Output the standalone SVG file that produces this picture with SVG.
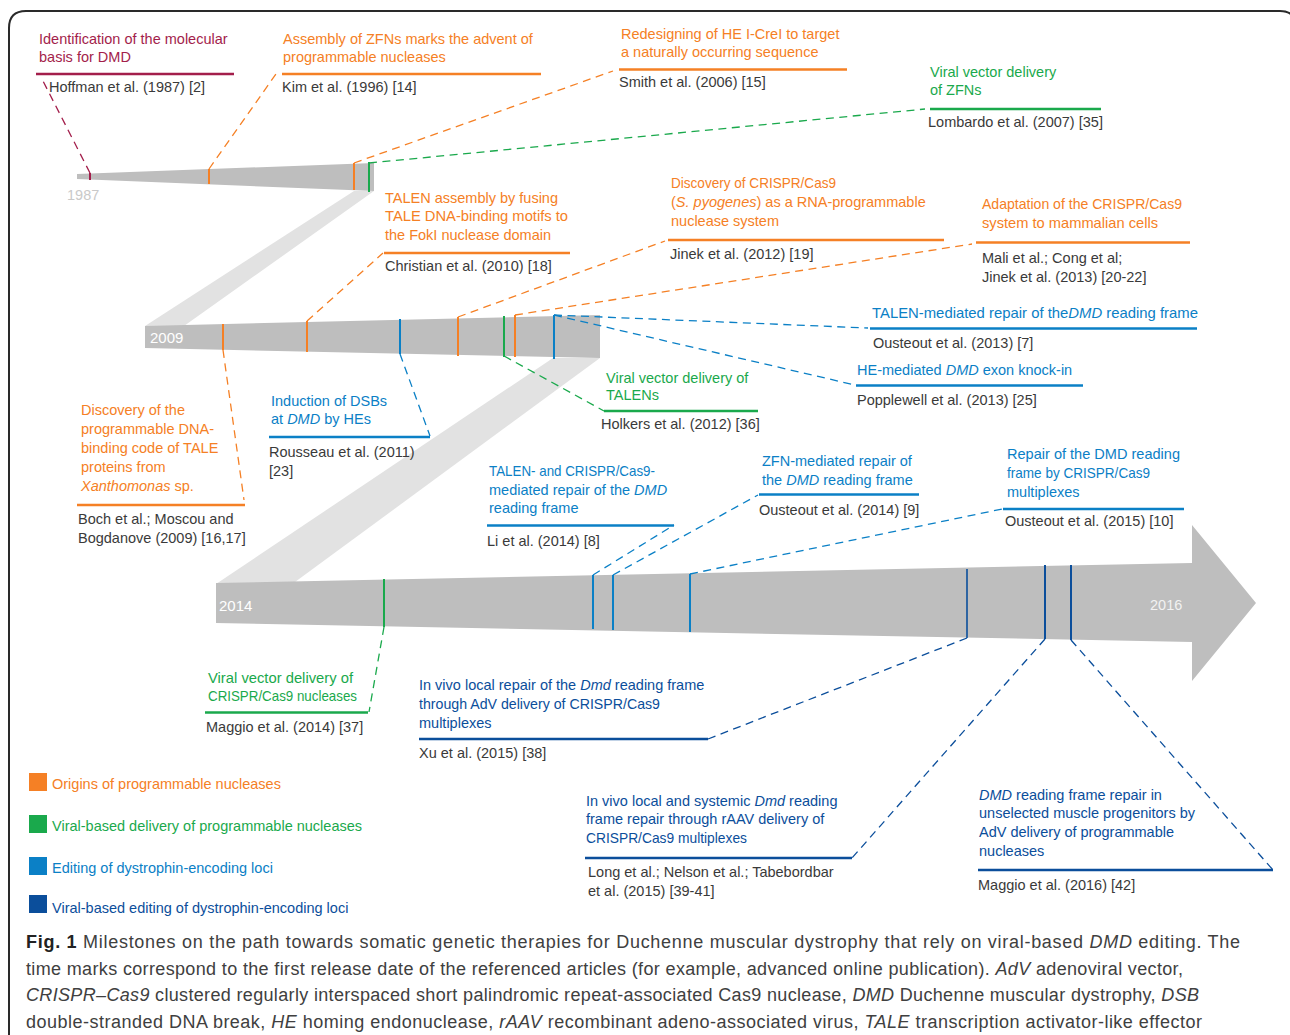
<svg xmlns="http://www.w3.org/2000/svg" width="1290" height="1035" viewBox="0 0 1290 1035">
<style>
text{font-family:"Liberation Sans",Arial,sans-serif;font-size:14.5px}
.mr{fill:#a31e4b}.or{fill:#f58025}.gr{fill:#1aa94c}.bl{fill:#0b80c6}.db{fill:#0b4e9b}.ref{fill:#3a3a3a}
.i{font-style:italic}
.u{fill:none;stroke-width:2.4}
.smr{stroke:#a31e4b}.sor{stroke:#f58025}.sgr{stroke:#1aa94c}.sbl{stroke:#0b80c6}.sdb{stroke:#0b4e9b}
.d{fill:none;stroke-width:1.3;stroke-dasharray:8 5.5}
.t{stroke-width:2}
.bar{fill:#bebebe}.band{fill:#e2e2e2}
.yr{fill:#ffffff;font-size:15px}
.cap{font-size:18px;fill:#404040}
</style>
<path d="M9,1035 V28 Q9,11 26,11 H1280 Q1296,11 1296,27" fill="none" stroke="#2a2a2a" stroke-width="2"/>

<g id="timeline-1987">
<polygon class="band" points="354,191 374,191 184,326 145,326"/>
<polygon class="bar" points="77,174 374,163 374,191 77,179"/>
<text x="67" y="200" fill="#c9c9c9" font-size="15">1987</text>
<line class="t smr" x1="90" y1="173" x2="90" y2="180"/>
<line class="t sor" x1="209" y1="169" x2="209" y2="184"/>
<line class="t sor" x1="354" y1="163" x2="354" y2="190"/>
<line class="t sgr" x1="369" y1="162" x2="369" y2="192"/>
</g>

<g id="timeline-2009">
<polygon class="band" points="553,358 600,358 295,582 216,584"/>
<polygon class="bar" points="145,326 600,315 600,358 145,348"/>
<text class="yr" x="150" y="343">2009</text>
<line class="t sor" x1="223" y1="324" x2="223" y2="350"/>
<line class="t sor" x1="307" y1="321" x2="307" y2="352"/>
<line class="t sbl" x1="400" y1="319" x2="400" y2="354"/>
<line class="t sor" x1="458" y1="317" x2="458" y2="356"/>
<line class="t sgr" x1="504" y1="316" x2="504" y2="357"/>
<line class="t sor" x1="515" y1="315" x2="515" y2="357"/>
<line class="t sbl" x1="554" y1="315" x2="554" y2="359"/>
</g>

<g id="timeline-2014">
<polygon class="bar" points="216,583 1192,563 1192,525 1256,603 1192,681 1192,642 216,623"/>
<text class="yr" x="219" y="611">2014</text>
<text x="1150" y="610" fill="#f2f2f2" font-size="15">2016</text>
<line class="t sgr" x1="384" y1="579" x2="384" y2="627"/>
<line class="t sbl" x1="593" y1="575" x2="593" y2="629"/>
<line class="t sbl" x1="613" y1="575" x2="613" y2="630"/>
<line class="t sbl" x1="690" y1="574" x2="690" y2="632"/>
<line class="sdb" stroke-width="1.6" x1="967" y1="569" x2="967" y2="638"/>
<line class="t sdb" x1="1045" y1="565" x2="1045" y2="639"/>
<line class="t sdb" x1="1071" y1="565" x2="1071" y2="640"/>
</g>

<g id="connectors">
<path class="d smr" d="M90,173 L42,79"/>
<path class="d sor" d="M209,169 L276,74"/>
<path class="d sor" d="M354,163 L613,71"/>
<path class="d sgr" d="M369,163 L925,109"/>
<path class="d sor" d="M223,350 L244,500"/>
<path class="d sor" d="M307,321 L383,253"/>
<path class="d sbl" d="M400,354 L430,436"/>
<path class="d sor" d="M458,317 L665,241"/>
<path class="d sor" d="M515,315 L972,244"/>
<path class="d sgr" d="M504,356 L604,411"/>
<path class="d sbl" d="M554,315 L868,328"/>
<path class="d sbl" d="M554,315 L855,385"/>
<path class="d sgr" d="M384,627 L369,712"/>
<path class="d sbl" d="M593,575 L674,525"/>
<path class="d sbl" d="M613,575 L758,495"/>
<path class="d sbl" d="M690,574 L1002,509"/>
<path class="d sdb" d="M967,638 L708,739"/>
<path class="d sdb" d="M1045,639 L852,858"/>
<path class="d sdb" d="M1071,640 L1273,870"/>
</g>

<g id="n-hoffman">
<text class="mr" x="39" y="44">Identification of the molecular</text>
<text class="mr" x="39" y="62">basis for DMD</text>
<line class="u smr" x1="36" y1="74" x2="234" y2="74"/>
<text class="ref" x="49" y="92">Hoffman et al. (1987) [2]</text>
</g>
<g id="n-kim">
<text class="or" x="283" y="44">Assembly of ZFNs marks the advent of</text>
<text class="or" x="283" y="62">programmable nucleases</text>
<line class="u sor" stroke-width="1.8" x1="282" y1="74" x2="541" y2="74"/>
<text class="ref" x="282" y="92">Kim et al. (1996) [14]</text>
</g>
<g id="n-smith">
<text class="or" x="621" y="39">Redesigning of HE I-CreI to target</text>
<text class="or" x="621" y="57">a naturally occurring sequence</text>
<line class="u sor" stroke-width="1.8" x1="619" y1="69.5" x2="847" y2="69.5"/>
<text class="ref" x="619" y="87">Smith et al. (2006) [15]</text>
</g>
<g id="n-lombardo">
<text class="gr" x="930" y="77">Viral vector delivery</text>
<text class="gr" x="930" y="95">of ZFNs</text>
<line class="u sgr" stroke-width="3" x1="930" y1="109" x2="1101" y2="109"/>
<text class="ref" x="928" y="127">Lombardo et al. (2007) [35]</text>
</g>
<g id="n-christian">
<text class="or" x="385" y="203">TALEN assembly by fusing</text>
<text class="or" x="385" y="221" textLength="183" lengthAdjust="spacingAndGlyphs">TALE DNA-binding motifs to</text>
<text class="or" x="385" y="240">the FokI nuclease domain</text>
<line class="u sor" x1="384" y1="253" x2="570" y2="253"/>
<text class="ref" x="385" y="271">Christian et al. (2010) [18]</text>
</g>
<g id="n-jinek2012">
<text class="or" x="671" y="188" textLength="165" lengthAdjust="spacingAndGlyphs">Discovery of CRISPR/Cas9</text>
<text class="or" x="671" y="207">(<tspan class="i">S. pyogenes</tspan>) as a RNA-programmable</text>
<text class="or" x="671" y="226">nuclease system</text>
<line class="u sor" stroke-width="2" x1="668" y1="240" x2="944" y2="240"/>
<text class="ref" x="670" y="259">Jinek et al. (2012) [19]</text>
</g>
<g id="n-mali">
<text class="or" x="982" y="209" textLength="200" lengthAdjust="spacingAndGlyphs">Adaptation of the CRISPR/Cas9</text>
<text class="or" x="982" y="228" textLength="176" lengthAdjust="spacingAndGlyphs">system to mammalian cells</text>
<line class="u sor" stroke-width="3" x1="976" y1="242.5" x2="1190" y2="242.5"/>
<text class="ref" x="982" y="263">Mali et al.; Cong et al;</text>
<text class="ref" x="982" y="282">Jinek et al. (2013) [20-22]</text>
</g>
<g id="n-ousteout2013">
<text class="bl" x="872" y="318" textLength="326" lengthAdjust="spacingAndGlyphs">TALEN-mediated repair of the<tspan class="i">DMD</tspan> reading frame</text>
<line class="u sbl" x1="870" y1="328.5" x2="1197" y2="328.5"/>
<text class="ref" x="873" y="348">Ousteout et al. (2013) [7]</text>
</g>
<g id="n-popplewell">
<text class="bl" x="857" y="375">HE-mediated <tspan class="i">DMD</tspan> exon knock-in</text>
<line class="u sbl" x1="856" y1="385.5" x2="1083" y2="385.5"/>
<text class="ref" x="857" y="405">Popplewell et al. (2013) [25]</text>
</g>
<g id="n-holkers">
<text class="gr" x="606" y="383">Viral vector delivery of</text>
<text class="gr" x="606" y="400">TALENs</text>
<line class="u sgr" x1="604" y1="411" x2="758" y2="411"/>
<text class="ref" x="601" y="429">Holkers et al. (2012) [36]</text>
</g>
<g id="n-boch">
<text class="or" x="81" y="415">Discovery of the</text>
<text class="or" x="81" y="434">programmable DNA-</text>
<text class="or" x="81" y="453">binding code of TALE</text>
<text class="or" x="81" y="472">proteins from</text>
<text class="or" x="81" y="491"><tspan class="i">Xanthomonas</tspan> sp.</text>
<line class="u sor" x1="77" y1="505" x2="245" y2="505"/>
<text class="ref" x="78" y="524">Boch et al.; Moscou and</text>
<text class="ref" x="78" y="543">Bogdanove (2009) [16,17]</text>
</g>
<g id="n-rousseau">
<text class="bl" x="271" y="406">Induction of DSBs</text>
<text class="bl" x="271" y="424">at <tspan class="i">DMD</tspan> by HEs</text>
<line class="u sbl" x1="269" y1="437" x2="430" y2="437"/>
<text class="ref" x="269" y="457">Rousseau et al. (2011)</text>
<text class="ref" x="269" y="476">[23]</text>
</g>
<g id="n-li">
<text class="bl" x="489" y="476" textLength="166" lengthAdjust="spacingAndGlyphs">TALEN- and CRISPR/Cas9-</text>
<text class="bl" x="489" y="495">mediated repair of the <tspan class="i">DMD</tspan></text>
<text class="bl" x="489" y="513">reading frame</text>
<line class="u sbl" stroke-width="2" x1="487" y1="525.5" x2="674" y2="525.5"/>
<text class="ref" x="487" y="546">Li et al. (2014) [8]</text>
</g>
<g id="n-ousteout2014">
<text class="bl" x="762" y="466">ZFN-mediated repair of</text>
<text class="bl" x="762" y="485">the <tspan class="i">DMD</tspan> reading frame</text>
<line class="u sbl" x1="759" y1="494.5" x2="919" y2="494.5"/>
<text class="ref" x="759" y="515">Ousteout et al. (2014) [9]</text>
</g>
<g id="n-ousteout2015">
<text class="bl" x="1007" y="459" textLength="173" lengthAdjust="spacingAndGlyphs">Repair of the DMD reading</text>
<text class="bl" x="1007" y="478" textLength="143" lengthAdjust="spacingAndGlyphs">frame by CRISPR/Cas9</text>
<text class="bl" x="1007" y="497">multiplexes</text>
<line class="u sbl" x1="1003" y1="509" x2="1184" y2="509"/>
<text class="ref" x="1005" y="526">Ousteout et al. (2015) [10]</text>
</g>
<g id="n-maggio2014">
<text class="gr" x="208" y="683" textLength="145" lengthAdjust="spacingAndGlyphs">Viral vector delivery of</text>
<text class="gr" x="208" y="701" textLength="149" lengthAdjust="spacingAndGlyphs">CRISPR/Cas9 nucleases</text>
<line class="u sgr" x1="205" y1="712.5" x2="368" y2="712.5"/>
<text class="ref" x="206" y="732">Maggio et al. (2014) [37]</text>
</g>
<g id="n-xu">
<text class="db" x="419" y="690">In vivo local repair of the <tspan class="i">Dmd</tspan> reading frame</text>
<text class="db" x="419" y="709" textLength="241" lengthAdjust="spacingAndGlyphs">through AdV delivery of CRISPR/Cas9</text>
<text class="db" x="419" y="728">multiplexes</text>
<line class="u sdb" x1="419" y1="739" x2="708" y2="739"/>
<text class="ref" x="419" y="758">Xu et al. (2015) [38]</text>
</g>
<g id="n-long">
<text class="db" x="586" y="806">In vivo local and systemic <tspan class="i">Dmd</tspan> reading</text>
<text class="db" x="586" y="824">frame repair through rAAV delivery of</text>
<text class="db" x="586" y="843" textLength="161" lengthAdjust="spacingAndGlyphs">CRISPR/Cas9 multiplexes</text>
<line class="u sdb" x1="585" y1="858" x2="852" y2="858"/>
<text class="ref" x="588" y="877">Long et al.; Nelson et al.; Tabebordbar</text>
<text class="ref" x="588" y="896">et al. (2015) [39-41]</text>
</g>
<g id="n-maggio2016">
<text class="db" x="979" y="800"><tspan class="i">DMD</tspan> reading frame repair in</text>
<text class="db" x="979" y="818">unselected muscle progenitors by</text>
<text class="db" x="979" y="837">AdV delivery of programmable</text>
<text class="db" x="979" y="856">nucleases</text>
<line class="u sdb" x1="978" y1="870" x2="1273" y2="870"/>
<text class="ref" x="978" y="890">Maggio et al. (2016) [42]</text>
</g>

<g id="legend">
<rect x="29" y="773" width="18" height="18" fill="#f58025"/>
<text class="or" x="52" y="789">Origins of programmable nucleases</text>
<rect x="29" y="815" width="18" height="18" fill="#1aa94c"/>
<text class="gr" x="52" y="831">Viral-based delivery of programmable nucleases</text>
<rect x="29" y="857" width="18" height="18" fill="#0b80c6"/>
<text class="bl" x="52" y="873">Editing of dystrophin-encoding loci</text>
<rect x="29" y="895" width="18" height="18" fill="#0b4e9b"/>
<text class="db" x="52" y="913">Viral-based editing of dystrophin-encoding loci</text>
</g>

<g id="caption">
<text class="cap" x="26" y="948" textLength="1214" lengthAdjust="spacing"><tspan font-weight="bold" fill="#222">Fig. 1</tspan> Milestones on the path towards somatic genetic therapies for Duchenne muscular dystrophy that rely on viral-based <tspan class="i">DMD</tspan> editing. The</text>
<text class="cap" x="26" y="975" textLength="1157" lengthAdjust="spacing">time marks correspond to the first release date of the referenced articles (for example, advanced online publication). <tspan class="i">AdV</tspan> adenoviral vector,</text>
<text class="cap" x="26" y="1001" textLength="1173" lengthAdjust="spacing"><tspan class="i">CRISPR–Cas9</tspan> clustered regularly interspaced short palindromic repeat-associated Cas9 nuclease, <tspan class="i">DMD</tspan> Duchenne muscular dystrophy, <tspan class="i">DSB</tspan></text>
<text class="cap" x="26" y="1028" textLength="1176" lengthAdjust="spacing">double-stranded DNA break, <tspan class="i">HE</tspan> homing endonuclease, <tspan class="i">rAAV</tspan> recombinant adeno-associated virus, <tspan class="i">TALE</tspan> transcription activator-like effector</text>
</g>
</svg>
